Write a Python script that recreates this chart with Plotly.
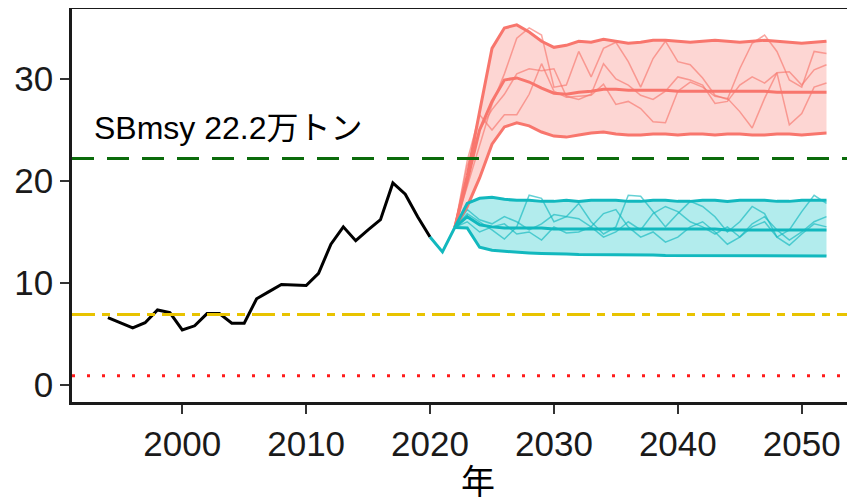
import plotly.graph_objects as go

# ---------------- data ----------------
hist_years = list(range(1994, 2021))
hist_values = [6.6, 6.1, 5.6, 6.1, 7.35, 7.1, 5.4, 5.8, 7.0, 7.0, 6.05, 6.05, 8.45, 9.15,
               9.85, 9.8, 9.75, 10.95, 13.8, 15.5, 14.15, 15.2, 16.2, 19.8, 18.7, 16.5, 14.5]

bridge_years = [2020, 2021, 2022]
bridge_values = [14.5, 13.05, 15.45]

proj_years = list(range(2022, 2053))

red_upper = [15.45, 20.5, 26.8, 33.0, 35.0, 35.3, 34.6, 33.7, 33.1, 33.3, 33.7, 33.6, 33.9, 33.7,
             33.5, 33.6, 33.8, 33.8, 33.7, 33.6, 33.7, 33.8, 33.7, 33.6, 33.7, 33.8, 33.7, 33.6,
             33.5, 33.6, 33.7]
red_median = [15.45, 20.0, 25.0, 27.8, 29.9, 30.1, 29.7, 29.1, 28.6, 28.5, 28.7, 28.8, 29.0, 29.0,
              28.9, 28.9, 28.9, 28.9, 28.8, 28.8, 28.8, 28.8, 28.8, 28.8, 28.8, 28.8, 28.7, 28.7,
              28.7, 28.7, 28.7]
red_lower = [15.45, 17.5, 20.3, 23.6, 25.3, 25.7, 25.4, 24.8, 24.4, 24.3, 24.5, 24.7, 24.8, 24.6,
             24.5, 24.5, 24.6, 24.6, 24.5, 24.6, 24.6, 24.5, 24.6, 24.6, 24.5, 24.5, 24.6, 24.6,
             24.5, 24.6, 24.7]
red_traj1 = [15.45, 19.5, 23.5, 27.5, 30.5, 34.0, 35.0, 34.3, 29.2, 29.4, 32.7, 30.2, 33.0, 33.6,
             31.7, 29.2, 32.0, 33.7, 31.7, 31.4, 30.1, 28.4, 28.0, 31.0, 33.5, 34.3, 32.7, 29.9,
             29.2, 32.7, 32.5]
red_traj2 = [15.45, 21.5, 25.0, 27.0, 28.5, 30.5, 31.0, 30.8, 31.0, 28.3, 28.0, 28.5, 31.5, 30.0,
             29.4, 28.4, 28.0, 28.8, 30.2, 29.9, 29.4, 27.6, 27.8, 29.4, 30.2, 29.6, 30.6, 30.7,
             29.4, 30.9, 31.4]
red_traj3 = [15.45, 22.0, 26.5, 25.0, 26.5, 26.5, 28.5, 31.5, 28.8, 28.2, 28.3, 28.4, 29.5, 27.5,
             27.8, 27.1, 25.8, 25.7, 28.8, 29.7, 29.2, 28.3, 28.1, 26.8, 25.2, 28.1, 30.6, 25.5,
             26.6, 29.2, 29.6]

teal_upper = [15.45, 17.8, 18.3, 18.4, 18.2, 18.1, 18.1, 18.0, 18.0, 18.1, 18.0, 18.1, 18.1, 18.1,
              18.0, 18.0, 18.1, 18.1, 18.0, 18.0, 18.1, 18.1, 18.0, 18.1, 18.1, 18.1, 18.0, 18.0,
              18.1, 18.1, 18.1]
teal_median = [15.45, 16.5, 15.7, 15.5, 15.4, 15.4, 15.4, 15.4, 15.3, 15.3, 15.3, 15.3, 15.3, 15.3,
               15.3, 15.3, 15.3, 15.3, 15.3, 15.3, 15.3, 15.3, 15.2, 15.2, 15.2, 15.2, 15.2, 15.2,
               15.2, 15.2, 15.2]
teal_lower = [15.45, 15.4, 13.5, 13.2, 13.1, 13.0, 12.95, 12.9, 12.9, 12.85, 12.8, 12.8, 12.8, 12.8,
              12.75, 12.75, 12.75, 12.7, 12.7, 12.7, 12.7, 12.7, 12.7, 12.7, 12.7, 12.7, 12.7, 12.7,
              12.7, 12.65, 12.65]
teal_traj1 = [15.45, 16.8, 16.0, 15.2, 14.3, 15.5, 18.6, 18.3, 16.0, 16.5, 17.8, 16.0, 14.8, 15.5,
              18.6, 18.5, 17.0, 15.5, 16.8, 18.0, 17.5, 16.5, 15.0, 16.0, 17.5, 16.8, 14.5, 15.2,
              17.0, 18.6, 17.8]
teal_traj2 = [15.45, 17.2, 16.2, 15.8, 16.5, 16.0, 15.2, 15.8, 16.7, 16.5, 16.3, 15.5, 14.5, 15.0,
              16.0, 15.2, 16.8, 17.5, 17.0, 16.0, 15.5, 14.8, 15.5, 14.5, 15.8, 16.5, 15.2, 14.2,
              15.0, 16.0, 16.5]
teal_traj3 = [15.45, 16.0, 15.0, 15.5, 15.8, 14.8, 15.0, 14.2, 15.5, 14.9, 15.0, 15.5, 16.8, 17.2,
              15.5, 14.5, 15.0, 14.0, 14.5, 15.5, 16.0, 15.0, 13.8, 14.5, 15.5, 16.0, 14.5, 13.7,
              14.8, 15.8, 15.5]

ref_values = [22.2, 6.9, 0.9]
ref_label = "SBmsy 22.2万トン"
x_title = "年"
y_ticks = [0, 10, 20, 30]
x_ticks = [2000, 2010, 2020, 2030, 2040, 2050]

# ---------------- styles ----------------
RED = "#F8766D"
TEAL = "#12B8BE"
FONT = "Liberation Sans, Arial, Noto Sans CJK JP, sans-serif"

# page has an 8px body margin, so the figure is sized to fit the remaining viewport
W, H = 847, 494
ML, MR, MT, MB = 64, 0, 1, 100

fig = go.Figure()


def band(lower, upper, fill):
    fig.add_trace(go.Scatter(x=proj_years, y=lower, mode="lines", line=dict(width=0),
                             showlegend=False, hoverinfo="skip"))
    fig.add_trace(go.Scatter(x=proj_years, y=upper, mode="lines", line=dict(width=0),
                             fill="tonexty", fillcolor=fill, showlegend=False, hoverinfo="skip"))


band(red_lower, red_upper, "rgba(248,118,109,0.30)")
band(teal_lower, teal_upper, "rgba(0,191,196,0.30)")

for tr in (red_traj1, red_traj2, red_traj3):
    fig.add_trace(go.Scatter(x=proj_years, y=tr, mode="lines",
                             line=dict(color="rgba(248,118,109,0.65)", width=1.5), showlegend=False))
for tr in (teal_traj1, teal_traj2, teal_traj3):
    fig.add_trace(go.Scatter(x=proj_years, y=tr, mode="lines",
                             line=dict(color="rgba(18,184,190,0.65)", width=1.5), showlegend=False))

for ser in (red_upper, red_median, red_lower):
    fig.add_trace(go.Scatter(x=proj_years, y=ser, mode="lines",
                             line=dict(color=RED, width=3), showlegend=False))
for ser in (teal_upper, teal_median, teal_lower):
    fig.add_trace(go.Scatter(x=proj_years, y=ser, mode="lines",
                             line=dict(color=TEAL, width=3), showlegend=False))

fig.add_trace(go.Scatter(x=hist_years, y=hist_values, mode="lines",
                         line=dict(color="black", width=3), showlegend=False))
fig.add_trace(go.Scatter(x=bridge_years, y=bridge_values, mode="lines",
                         line=dict(color=TEAL, width=3), showlegend=False))

# reference lines
ref_styles = [("#0B6B0B", "22px,13px"), ("#E8C300", "23px,7px,8px,7px"), ("#FF1A1A", "3px,12px")]
for val, (col, dash) in zip(ref_values, ref_styles):
    fig.add_shape(type="line", xref="paper", x0=0, x1=1, yref="y", y0=val, y1=val,
                  line=dict(color=col, width=3, dash=dash), layer="above")

fig.add_annotation(x=1992.75, y=25.2, text=ref_label, showarrow=False, xanchor="left",
                   yanchor="middle", font=dict(size=32, color="black", family=FONT))

plot_w = W - ML - MR
plot_h = H - MT - MB
fig.add_annotation(xref="paper", yref="paper", x=(470 - ML) / plot_w, y=-(474 - (H - MB)) / plot_h,
                   text=x_title, showarrow=False, xanchor="center", yanchor="middle",
                   font=dict(size=34, color="black", family=FONT))

fig.update_layout(
    width=W, height=H,
    margin=dict(l=ML, r=MR, t=MT, b=MB, autoexpand=False),
    plot_bgcolor="white", paper_bgcolor="white",
    font=dict(family=FONT, color="black"),
    showlegend=False,
    xaxis=dict(range=[1991.1, 2054.3], tickvals=x_ticks, ticks="outside", ticklen=9, tickwidth=2,
               tickcolor="#333", showline=True, linecolor="#1a1a1a", linewidth=2.5, mirror=True,
               showgrid=False, zeroline=False, tickfont=dict(size=35, color="#1a1a1a"),
               automargin=False),
    yaxis=dict(range=[-1.67, 36.86], tickvals=y_ticks, ticks="outside", ticklen=9, tickwidth=2,
               tickcolor="#333", showline=True, linecolor="#1a1a1a", linewidth=2.5,
               showgrid=False, zeroline=False, tickfont=dict(size=35, color="#1a1a1a"),
               automargin=False),
)

fig.write_html("out.html")
